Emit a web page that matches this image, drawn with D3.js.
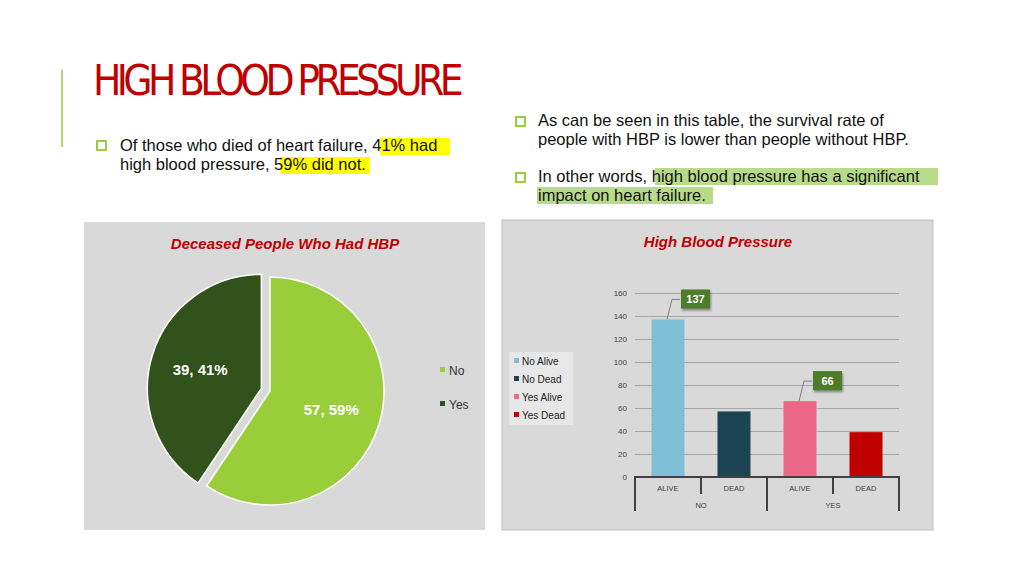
<!DOCTYPE html>
<html>
<head>
<script src="https://d3js.org/d3.v7.min.js"></script>
<style>
body{margin:0;background:#fff;font-family:"Liberation Sans",Arial,sans-serif;}
svg text{font-family:"Liberation Sans",Arial,sans-serif;}
</style>
</head>
<body>
<svg id="slide" width="1023" height="576"></svg>
<script>
// pie data
const pieLabels = ["No", "Yes"];
const pieValues = [57, 39];
const pieColors = ["#9ACD3A", "#31521B"];
// bar data
const groups = ["NO", "YES"];
const subCats = ["ALIVE", "DEAD"];
const barSeries = ["No Alive", "No Dead", "Yes Alive", "Yes Dead"];
const barValues = [137, 57, 66, 39];
const barColors = ["#7FC0D6", "#1C4452", "#EE6889", "#C00000"];
const barTicks = [0, 20, 40, 60, 80, 100, 120, 140, 160];
const labelled = [0, 2];

const svg = d3.select("#slide");
const red = "#C00000";

svg.append("line").attr("x1", 62).attr("x2", 62).attr("y1", 70).attr("y2", 147)
  .attr("stroke", "#9ACD3A").attr("stroke-width", 1.5);
svg.append("text").attr("x", 93).attr("y", 95).text("HIGH BLOOD PRESSURE")
  .attr("fill", red).style("font-family", "'Liberation Sans Narrow','DejaVu Sans Condensed',sans-serif")
  .attr("font-size", 42).attr("letter-spacing", 2.5).attr("textLength", 373);

function bullet(x, y) {
  svg.append("rect").attr("x", x).attr("y", y - 10).attr("width", 9).attr("height", 9)
    .attr("fill", "none").attr("stroke", "#9ACD3A").attr("stroke-width", 2);
}
function hl(x, y, w, color) {
  svg.append("rect").attr("x", x).attr("y", y - 13).attr("width", w).attr("height", 17).attr("fill", color);
}
hl(380, 151, 70, "#FFFF00");
hl(280, 170, 90, "#FFFF00");
hl(655, 181, 283, "#B8DB8A");
hl(537, 200, 176, "#B8DB8A");
bullet(97, 151);
bullet(516, 127);
bullet(516, 183);
function para(x, y, lines) {
  lines.forEach((l, i) => svg.append("text").attr("x", x).attr("y", y + i * 19)
    .attr("font-size", 16.5).attr("fill", "#111").text(l));
}
para(120, 151, ["Of those who died of heart failure, 41% had", "high blood pressure, 59% did not."]);
para(538, 126, ["As can be seen in this table, the survival rate of", "people with HBP is lower than people without HBP."]);
para(538, 182, ["In other words, high blood pressure has a significant", "impact on heart failure."]);

// ---- pie panel
svg.append("rect").attr("x", 84).attr("y", 222).attr("width", 401).attr("height", 308).attr("fill", "#D9D9D9");
svg.append("text").attr("x", 285).attr("y", 249).attr("text-anchor", "middle").attr("fill", red)
  .attr("font-size", 15).attr("font-weight", "bold").attr("font-style", "italic").text("Deceased People Who Had HBP");
const pie = d3.pie().sort(null).value(d => d)(pieValues);
const arc = d3.arc().innerRadius(0).outerRadius(114);
const pg = svg.append("g").attr("transform", "translate(270,391)");
const total = d3.sum(pieValues);
pie.forEach((p, i) => {
  const mid = (p.startAngle + p.endAngle) / 2, off = i === 1 ? 9 : 0;
  const dx = Math.sin(mid) * off, dy = -Math.cos(mid) * off;
  pg.append("path").attr("d", arc(p)).attr("fill", pieColors[i]).attr("stroke", "#fff")
    .attr("stroke-width", 1.5).attr("transform", `translate(${dx},${dy})`);
  const c = d3.arc().innerRadius(0).outerRadius(128).centroid(p);
  pg.append("text").attr("x", c[0] + dx).attr("y", c[1] + dy + 5).attr("text-anchor", "middle")
    .attr("fill", "#fff").attr("font-weight", "bold").attr("font-size", 15)
    .text(`${pieValues[i]}, ${Math.round(pieValues[i] / total * 100)}%`);
});
pieLabels.forEach((l, i) => {
  svg.append("rect").attr("x", 440).attr("y", 367 + i * 34).attr("width", 5).attr("height", 5).attr("fill", pieColors[i]);
  svg.append("text").attr("x", 449).attr("y", 375 + i * 34).attr("font-size", 12).attr("fill", "#333").text(l);
});

// ---- bar panel
svg.append("rect").attr("x", 502).attr("y", 220).attr("width", 431).attr("height", 310)
  .attr("fill", "#D9D9D9").attr("stroke", "#BFBFBF");
svg.append("text").attr("x", 718).attr("y", 247).attr("text-anchor", "middle").attr("fill", red)
  .attr("font-size", 15).attr("font-weight", "bold").attr("font-style", "italic").text("High Blood Pressure");
const x = d3.scaleBand().domain(barSeries).range([635, 899]).paddingInner(0.5).paddingOuter(0.25);
const y = d3.scaleLinear().domain([0, 160]).range([477, 293]);
const ya = svg.append("g").attr("transform", "translate(635,0)")
  .call(d3.axisLeft(y).tickValues(barTicks).tickSize(-264).tickPadding(8));
ya.select(".domain").remove();
ya.selectAll(".tick line").attr("stroke", "#A6A6A6");
ya.selectAll(".tick text").attr("font-size", 8).attr("fill", "#404040");
barValues.forEach((v, i) => {
  svg.append("rect").attr("x", x(barSeries[i])).attr("y", y(v)).attr("width", x.bandwidth())
    .attr("height", y(0) - y(v)).attr("fill", barColors[i]);
});
labelled.forEach(i => {
  const bx = x(barSeries[i]) + x.bandwidth() / 2, by = y(barValues[i]);
  const lx = bx + 26, ly = by - 20;
  svg.append("polyline").attr("points", `${bx - 1},${by} ${bx + 4},${ly} ${lx - 14},${ly}`)
    .attr("fill", "none").attr("stroke", "#7F7F7F");
  svg.append("rect").attr("x", lx - 13).attr("y", ly - 10).attr("width", 29).attr("height", 19)
    .attr("fill", "#4E7D2A").style("filter", "drop-shadow(1px 2px 1px rgba(0,0,0,0.4))");
  svg.append("text").attr("x", lx + 1.5).attr("y", ly + 4).attr("text-anchor", "middle")
    .attr("fill", "#fff").attr("font-weight", "bold").attr("font-size", 11).text(barValues[i]);
});
// category axis
const ax = svg.append("g").attr("stroke", "#404040").attr("stroke-width", 2);
ax.append("line").attr("x1", 634).attr("x2", 900).attr("y1", y(0)).attr("y2", y(0));
const step = x.step();
[0, 1, 2, 3, 4].forEach(k => {
  const xx = 635 + k * (264 / 4);
  ax.append("line").attr("x1", xx).attr("x2", xx).attr("y1", y(0))
    .attr("y2", k % 2 === 0 ? 511 : 494);
});
barSeries.forEach((s, i) => {
  svg.append("text").attr("x", x(s) + x.bandwidth() / 2).attr("y", 491).attr("text-anchor", "middle")
    .attr("font-size", 7.5).attr("fill", "#404040").text(subCats[i % 2]);
});
groups.forEach((g, i) => {
  svg.append("text").attr("x", 635 + 66 + i * 132).attr("y", 508).attr("text-anchor", "middle")
    .attr("font-size", 7.5).attr("fill", "#404040").text(g);
});
svg.append("rect").attr("x", 509).attr("y", 352).attr("width", 64).attr("height", 73).attr("fill", "#E7E7E7");
barSeries.forEach((s, i) => {
  svg.append("rect").attr("x", 514).attr("y", 358 + i * 18).attr("width", 5).attr("height", 5).attr("fill", barColors[i]);
  svg.append("text").attr("x", 522).attr("y", 365 + i * 18).attr("font-size", 10).attr("fill", "#222").text(s);
});
</script>
</body>
</html>
